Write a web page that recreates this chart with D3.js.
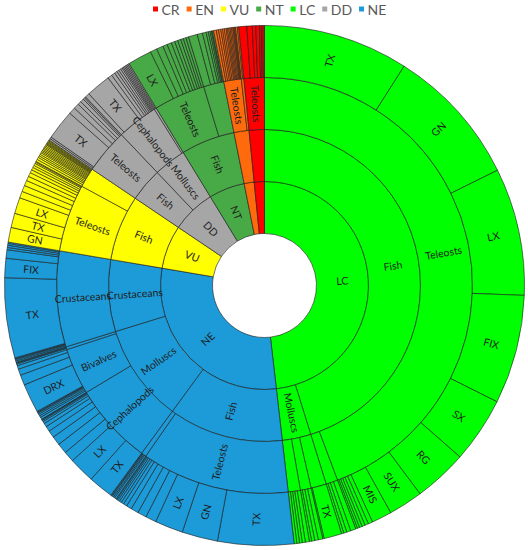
<!DOCTYPE html>
<html>
<head>
<meta charset="utf-8">
<style>
body { margin: 0; background: #fff; }
svg { display: block; }
.label { font-family: Lato, sans-serif; font-size: 10.5px; fill: #1e1e1e; }
.legend text { font-family: Lato, sans-serif; font-size: 14px; fill: #595959; }
</style>
</head>
<body>
<svg width="528" height="550"></svg>
<script src="https://d3js.org/d3.v7.min.js"></script>
<script>

// IUCN categories, in drawing order (clockwise from 12 o'clock)
var categories = ["LC", "NE", "VU", "DD", "NT", "EN", "CR"];
var legendOrder = ["CR", "EN", "VU", "NT", "LC", "DD", "NE"];

// rows: [group, subgroup, gear, value]
var LC = [
  ["Fish", "Teleosts", "TX", 32.5], ["Fish", "Teleosts", "GN", 31.2], ["Fish", "Teleosts", "LX", 28.5],
  ["Fish", "Teleosts", "FIX", 24.4], ["Fish", "Teleosts", "SX", 14.7], ["Fish", "Teleosts", "RG", 12.0],
  ["Fish", "Teleosts", "SUX", 7.7], ["Fish", "Teleosts", "MIS", 4.5], ["Fish", "Teleosts", "OT", 1.0],
  ["Fish", "Teleosts", "PS", 0.8], ["Fish", "Teleosts", "LLS", 0.7], ["Fish", "Teleosts", "GNS", 0.6],
  ["Fish", "Teleosts", "FPO", 0.5], ["Fish", "Teleosts", "HMD", 0.4],
  ["Fish", "Elasmobranchs", "TX", 1.2], ["Fish", "Elasmobranchs", "GN", 0.9],
  ["Fish", "Elasmobranchs", "LX", 0.7], ["Fish", "Elasmobranchs", "OT", 0.5],
  ["Molluscs", "Cephalopods", "TX", 4.0], ["Molluscs", "Cephalopods", "LX", 0.3],
  ["Molluscs", "Bivalves", "DRX", 1.0], ["Molluscs", "Bivalves", "HMD", 0.8],
  ["Molluscs", "Bivalves", "OT", 0.7], ["Molluscs", "Bivalves", "LX", 0.5],
  ["Molluscs", "Gastropods", "TX", 0.9], ["Molluscs", "Gastropods", "LX", 0.7],
  ["Molluscs", "Gastropods", "FPO", 0.6], ["Molluscs", "Gastropods", "OT", 0.6],
  ["Molluscs", "Gastropods", "GN", 0.6]
];

var NE = [
  ["Fish", "Teleosts", "TX", 17], ["Fish", "Teleosts", "GN", 8], ["Fish", "Teleosts", "LX", 6.3],
  ["Fish", "Teleosts", "OT", 2.4], ["Fish", "Teleosts", "PS", 2.0], ["Fish", "Teleosts", "LLS", 1.7],
  ["Fish", "Teleosts", "GNS", 1.2], ["Fish", "Teleosts", "FPO", 0.8], ["Fish", "Teleosts", "HMD", 0.6],
  ["Fish", "Teleosts", "SB", 0.5], ["Fish", "Teleosts", "PTM", 0.4], ["Fish", "Teleosts", "DRB", 0.3],
  ["Fish", "Teleosts", "GTR", 0.2],
  ["Fish", "Elasmobranchs", "TX", 0.4], ["Fish", "Elasmobranchs", "GN", 0.3], ["Fish", "Elasmobranchs", "LX", 0.3],
  ["Fish", "Elasmobranchs", "OT", 0.2], ["Fish", "Elasmobranchs", "LLS", 0.2],
  ["Molluscs", "Cephalopods", "TX", 5.6], ["Molluscs", "Cephalopods", "LX", 5.8], ["Molluscs", "Cephalopods", "OT", 2.4],
  ["Molluscs", "Cephalopods", "PS", 2.3], ["Molluscs", "Cephalopods", "DRB", 2.0], ["Molluscs", "Cephalopods", "FPO", 1.6],
  ["Molluscs", "Cephalopods", "GN", 1.2], ["Molluscs", "Cephalopods", "HMD", 0.8], ["Molluscs", "Cephalopods", "LLS", 0.5],
  ["Molluscs", "Cephalopods", "GNS", 0.3], ["Molluscs", "Cephalopods", "SB", 0.2], ["Molluscs", "Cephalopods", "PTM", 0.1],
  ["Molluscs", "Bivalves", "OT", 0.5], ["Molluscs", "Bivalves", "TX", 0.4], ["Molluscs", "Bivalves", "LX", 0.4],
  ["Molluscs", "Bivalves", "GN", 0.3], ["Molluscs", "Bivalves", "FPO", 0.2], ["Molluscs", "Bivalves", "SB", 0.2],
  ["Molluscs", "Bivalves", "DRX", 6.5], ["Molluscs", "Bivalves", "HMD", 2.3], ["Molluscs", "Bivalves", "DRB", 1.4],
  ["Molluscs", "Bivalves", "PS", 0.8],
  ["Molluscs", "Gastropods", "TX", 0.4], ["Molluscs", "Gastropods", "LX", 0.2], ["Molluscs", "Gastropods", "FPO", 0.2],
  ["Crustaceans", "Crustaceans", "OT", 0.3], ["Crustaceans", "Crustaceans", "PS", 0.3],
  ["Crustaceans", "Crustaceans", "GN", 0.2], ["Crustaceans", "Crustaceans", "LX", 0.2],
  ["Crustaceans", "Crustaceans", "TX", 17.9], ["Crustaceans", "Crustaceans", "FIX", 4.3],
  ["Crustaceans", "Crustaceans", "FPO", 1.9], ["Crustaceans", "Crustaceans", "DRB", 0.5],
  ["Crustaceans", "Crustaceans", "LLS", 0.5], ["Crustaceans", "Crustaceans", "SB", 0.4],
  ["Crustaceans", "Crustaceans", "HMD", 0.3]
];

var VU = [
  ["Fish", "Teleosts", "GN", 3.3], ["Fish", "Teleosts", "TX", 3.2], ["Fish", "Teleosts", "LX", 3.6],
  ["Fish", "Teleosts", "OT", 1.5], ["Fish", "Teleosts", "PS", 1.4], ["Fish", "Teleosts", "LLS", 1.2],
  ["Fish", "Teleosts", "GNS", 1.0], ["Fish", "Teleosts", "FPO", 0.9], ["Fish", "Teleosts", "HMD", 0.7],
  ["Fish", "Teleosts", "SB", 0.6], ["Fish", "Teleosts", "PTM", 0.5], ["Fish", "Teleosts", "DRB", 0.5],
  ["Fish", "Teleosts", "GTR", 0.3], ["Fish", "Teleosts", "LHP", 0.2],
  ["Fish", "Elasmobranchs", "TX", 0.5], ["Fish", "Elasmobranchs", "GN", 0.5], ["Fish", "Elasmobranchs", "LX", 0.4],
  ["Fish", "Elasmobranchs", "OT", 0.4], ["Fish", "Elasmobranchs", "PS", 0.4], ["Fish", "Elasmobranchs", "LLS", 0.3],
  ["Fish", "Elasmobranchs", "LLD", 0.3], ["Fish", "Elasmobranchs", "GNS", 0.3], ["Fish", "Elasmobranchs", "GTR", 0.3],
  ["Fish", "Elasmobranchs", "FPO", 0.3], ["Fish", "Elasmobranchs", "HMD", 0.3], ["Fish", "Elasmobranchs", "SB", 0.3],
  ["Fish", "Elasmobranchs", "PTM", 0.2], ["Fish", "Elasmobranchs", "OTB", 0.2], ["Fish", "Elasmobranchs", "LHP", 0.2],
  ["Fish", "Elasmobranchs", "LHM", 0.2], ["Fish", "Elasmobranchs", "FYK", 0.2], ["Fish", "Elasmobranchs", "SV", 0.2]
];

var DD = [
  ["Fish", "Teleosts", "OT", 0.4], ["Fish", "Teleosts", "PS", 0.4], ["Fish", "Teleosts", "TX", 6.7],
  ["Fish", "Teleosts", "GN", 1.5], ["Fish", "Teleosts", "LX", 1.2], ["Fish", "Teleosts", "LLS", 0.8],
  ["Fish", "Teleosts", "GNS", 0.8], ["Fish", "Teleosts", "FPO", 0.4], ["Fish", "Teleosts", "HMD", 0.3],
  ["Molluscs", "Cephalopods", "LX", 1.0], ["Molluscs", "Cephalopods", "TX", 5.5], ["Molluscs", "Cephalopods", "GN", 1.0],
  ["Molluscs", "Cephalopods", "OT", 0.8], ["Molluscs", "Cephalopods", "PS", 0.6], ["Molluscs", "Cephalopods", "DRB", 0.5],
  ["Molluscs", "Cephalopods", "FPO", 0.5], ["Molluscs", "Cephalopods", "HMD", 0.4], ["Molluscs", "Cephalopods", "LLS", 0.3],
  ["Molluscs", "Cephalopods", "SB", 0.3], ["Molluscs", "Cephalopods", "PTM", 0.3], ["Molluscs", "Cephalopods", "GTR", 0.3],
  ["Molluscs", "Bivalves", "DRX", 0.3], ["Molluscs", "Bivalves", "HMD", 0.3]
];

var NT = [
  ["Fish", "Teleosts", "LX", 5.4], ["Fish", "Teleosts", "TX", 1.5], ["Fish", "Teleosts", "GN", 1.5],
  ["Fish", "Teleosts", "OT", 1.0], ["Fish", "Teleosts", "PS", 1.0], ["Fish", "Teleosts", "LLS", 0.8],
  ["Fish", "Teleosts", "GNS", 0.7], ["Fish", "Teleosts", "FPO", 0.7], ["Fish", "Teleosts", "HMD", 0.6],
  ["Fish", "Teleosts", "SB", 0.6], ["Fish", "Teleosts", "PTM", 0.6],
  ["Fish", "Elasmobranchs", "TX", 2.0], ["Fish", "Elasmobranchs", "GN", 1.2], ["Fish", "Elasmobranchs", "LX", 0.8],
  ["Fish", "Elasmobranchs", "LLS", 0.5], ["Fish", "Elasmobranchs", "OT", 0.4], ["Fish", "Elasmobranchs", "PS", 0.3],
  ["Fish", "Elasmobranchs", "GNS", 0.2], ["Fish", "Elasmobranchs", "FPO", 0.3]
];

var EN = [
  ["Fish", "Teleosts", "TX", 0.6], ["Fish", "Teleosts", "GN", 0.5], ["Fish", "Teleosts", "LX", 0.5],
  ["Fish", "Teleosts", "OT", 0.4], ["Fish", "Teleosts", "PS", 0.4], ["Fish", "Teleosts", "LLS", 0.4],
  ["Fish", "Teleosts", "GNS", 0.3], ["Fish", "Teleosts", "FPO", 0.3], ["Fish", "Teleosts", "HMD", 0.3],
  ["Fish", "Teleosts", "SB", 0.3], ["Fish", "Teleosts", "PTM", 0.3], ["Fish", "Teleosts", "DRB", 0.2],
  ["Fish", "Teleosts", "GTR", 0.2], ["Fish", "Teleosts", "LHP", 0.2],
  ["Fish", "Elasmobranchs", "TX", 0.4], ["Fish", "Elasmobranchs", "LLS", 0.3]
];

var CR = [
  ["Fish", "Teleosts", "TX", 1.8], ["Fish", "Teleosts", "GN", 1.2], ["Fish", "Teleosts", "LX", 0.8],
  ["Fish", "Teleosts", "OT", 0.8], ["Fish", "Teleosts", "LLS", 0.4], ["Fish", "Teleosts", "GNS", 0.4],
  ["Fish", "Teleosts", "FPO", 0.3]
];

var rowsByCat = { LC: LC, NE: NE, VU: VU, DD: DD, NT: NT, EN: EN, CR: CR };

var colors = {
  CR: "#ff0000", EN: "#ff6a0d", VU: "#ffff00", NT: "#48a947",
  LC: "#00ff00", DD: "#a6a6a6", NE: "#1d9bd8"
};

var svg = d3.select("svg"),
    cx = 264.5, cy = 285.5,
    outerR = 260;

// build the category > group > subgroup > gear tree, keeping row order
function nest(cat, rows) {
  var node = { name: cat, children: [] };
  rows.forEach(function(r) {
    var g = node.children.find(function(c) { return c.name === r[0]; });
    if (!g) { g = { name: r[0], children: [] }; node.children.push(g); }
    var s = g.children.find(function(c) { return c.name === r[1]; });
    if (!s) { s = { name: r[1], children: [] }; g.children.push(s); }
    s.children.push({ name: r[2], value: r[3] });
  });
  return node;
}

var root = d3.hierarchy({ name: "", children: categories.map(function(c) { return nest(c, rowsByCat[c]); }) })
    .sum(function(d) { return d.value || 0; });

d3.partition().size([2 * Math.PI, 5])(root);

var radius = d3.scaleLinear().domain([0, 5]).range([0, outerR]);

var arc = d3.arc()
    .startAngle(function(d) { return d.x0; })
    .endAngle(function(d) { return d.x1; })
    .innerRadius(function(d) { return radius(d.y0); })
    .outerRadius(function(d) { return radius(d.y1); });

function catOf(d) { return d.ancestors().find(function(a) { return a.depth === 1; }).data.name; }

var g = svg.append("g").attr("transform", "translate(" + cx + "," + cy + ")");

var nodes = root.descendants().filter(function(d) { return d.depth > 0; });

g.selectAll("path")
  .data(nodes)
  .enter().append("path")
    .attr("d", arc)
    .attr("fill", function(d) { return colors[catOf(d)]; })
    .attr("stroke", "#1a1a1a")
    .attr("stroke-width", 0.6);

// labels: radial text, shown only when it fits in its sector
var ringW = radius(1) - radius(0);
g.selectAll("text.label")
  .data(nodes)
  .enter().append("text")
    .attr("class", "label")
    .attr("text-anchor", "middle")
    .attr("dy", "0.35em")
    .text(function(d) { return d.data.name; })
    .each(function(d) {
      var a = (d.x0 + d.x1) / 2,
          rm = radius((d.y0 + d.y1) / 2),
          w = this.getComputedTextLength(),
          deg = a * 180 / Math.PI,
          rot = deg < 180 ? deg - 90 : deg - 270;
      var fits = w <= ringW + 10 && (d.x1 - d.x0) * (rm - w / 2) >= 12.2;
      if (!fits) { d3.select(this).remove(); return; }
      d3.select(this).attr("transform",
        "translate(" + (rm * Math.sin(a)) + "," + (-rm * Math.cos(a)) + ") rotate(" + rot + ")");
    });

// legend
var legend = svg.append("g").attr("class", "legend");
var lx = 153;
legendOrder.forEach(function(c) {
  legend.append("rect")
    .attr("x", lx).attr("y", 6.5)
    .attr("width", 5).attr("height", 5)
    .attr("fill", colors[c]);
  var t = legend.append("text")
    .attr("x", lx + 8.5).attr("y", 15)
    .text(c);
  lx += 8.5 + t.node().getComputedTextLength() + 7;
});

</script>
</body>
</html>
